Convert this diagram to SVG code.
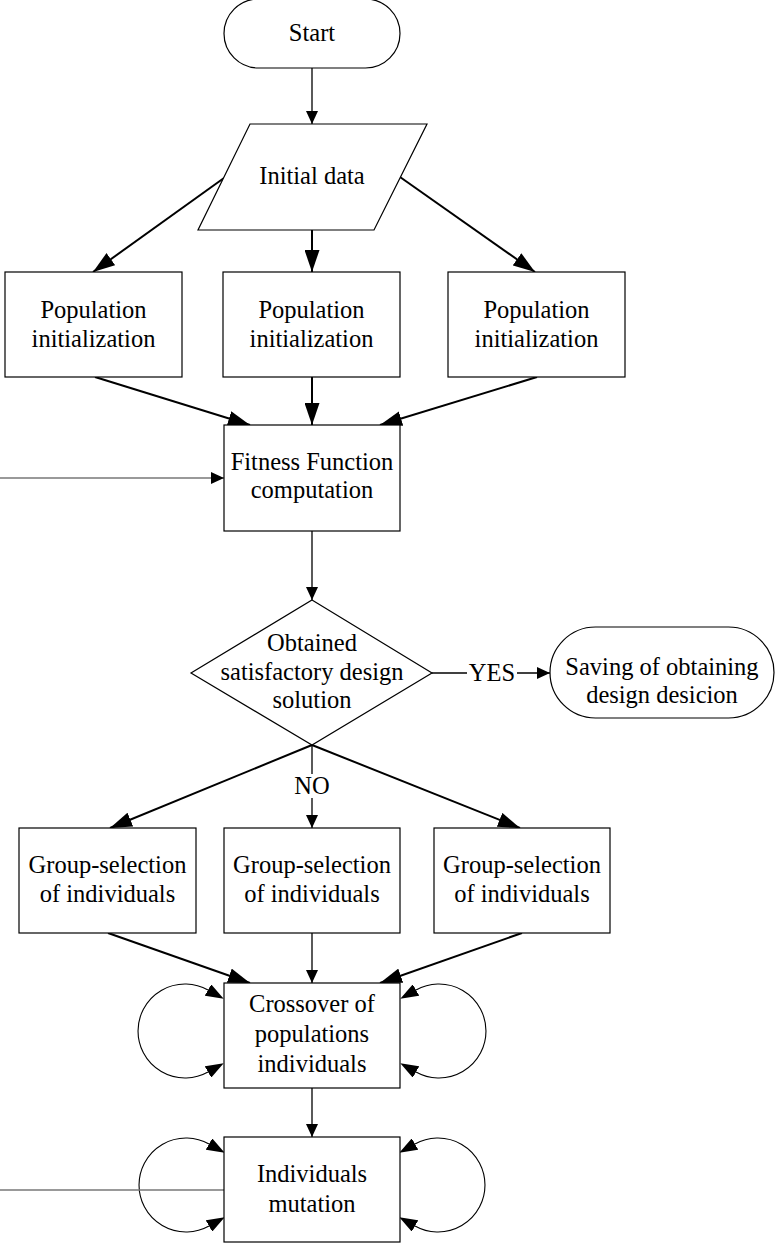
<svg xmlns="http://www.w3.org/2000/svg" width="776" height="1243" viewBox="0 0 776 1243">
<style>
.s{fill:#fff;stroke:#000;stroke-width:1.2}
.t{font-family:"Liberation Serif","Times New Roman",serif;font-size:24.5px;fill:#000;text-anchor:middle}
.thick{stroke:#000;stroke-width:2;fill:none}
.thin{stroke:#000;stroke-width:1.3;fill:none}
.loop{stroke:#000;stroke-width:1.1;fill:none}
.gray{stroke:#777;stroke-width:1.4;fill:none}
</style>
<defs>
<marker id="big" markerUnits="userSpaceOnUse" markerWidth="22" markerHeight="15" refX="22" refY="7.5" orient="auto"><path d="M0,0 L22,7.5 L0,15 z" fill="#000"/></marker>
<marker id="sm" markerUnits="userSpaceOnUse" markerWidth="13" markerHeight="12" refX="13" refY="6" orient="auto"><path d="M0,0 L13,6 L0,12 z" fill="#000"/></marker>
<marker id="lp" markerUnits="userSpaceOnUse" markerWidth="18" markerHeight="13" refX="0" refY="6.5" orient="auto-start-reverse"><path d="M0,0 L18,6.5 L0,13 z" fill="#000"/></marker>
</defs>
<g id="connectors">
<line class="thin" x1="312" y1="68" x2="312" y2="124" marker-end="url(#sm)"/>
<line class="thick" x1="224" y1="178" x2="93" y2="272" marker-end="url(#big)"/>
<line class="thick" x1="312" y1="230" x2="312" y2="272" marker-end="url(#big)"/>
<line class="thick" x1="400" y1="177" x2="535" y2="272" marker-end="url(#big)"/>
<line class="thick" x1="95" y1="377" x2="250" y2="425" marker-end="url(#big)"/>
<line class="thick" x1="312" y1="377" x2="312" y2="425" marker-end="url(#big)"/>
<line class="thick" x1="537" y1="377" x2="380" y2="425" marker-end="url(#big)"/>
<line class="gray" x1="0" y1="478" x2="224" y2="478" marker-end="url(#sm)"/>
<line class="thin" x1="312" y1="531" x2="312" y2="600" marker-end="url(#sm)"/>
<line class="thin" x1="432" y1="673" x2="467" y2="673"/>
<line class="thin" x1="517" y1="673" x2="550" y2="673" marker-end="url(#sm)"/>
<line class="thick" x1="312" y1="745" x2="110" y2="828" marker-end="url(#big)"/>
<line class="thick" x1="312" y1="745" x2="520" y2="828" marker-end="url(#big)"/>
<line class="thin" x1="312" y1="745" x2="312" y2="774"/>
<line class="thin" x1="312" y1="798" x2="312" y2="828" marker-end="url(#sm)"/>
<line class="thick" x1="108" y1="933" x2="250" y2="983" marker-end="url(#big)"/>
<line class="thin" x1="312" y1="933" x2="312" y2="983" marker-end="url(#sm)"/>
<line class="thick" x1="522" y1="933" x2="380" y2="983" marker-end="url(#big)"/>
<line class="thin" x1="312" y1="1088" x2="312" y2="1137" marker-end="url(#sm)"/>
<path class="loop" d="M208,990 A47,47 0 1 0 208,1072" marker-start="url(#lp)" marker-end="url(#lp)"/>
<path class="loop" d="M416,990 A47,47 0 1 1 416,1072" marker-start="url(#lp)" marker-end="url(#lp)"/>
<path class="loop" d="M209,1144 A47,47 0 1 0 209,1226" marker-start="url(#lp)" marker-end="url(#lp)"/>
<path class="loop" d="M415,1144 A47,47 0 1 1 415,1226" marker-start="url(#lp)" marker-end="url(#lp)"/>
<line class="gray" x1="0" y1="1190" x2="224" y2="1190"/>
</g>
<g id="start"><rect class="s" x="224" y="-1" width="176" height="69" rx="34.5"/><text class="t" x="312" y="41">Start</text></g>
<g id="initial-data"><polygon class="s" points="250,124 427,124 374,230 198,230"/><text class="t" x="312" y="184">Initial data</text></g>
<g id="pop1"><rect class="s" x="5" y="272" width="177" height="105"/><text class="t" x="93.5" y="318">Population</text><text class="t" x="93.5" y="347">initialization</text></g>
<g id="pop2"><rect class="s" x="223" y="272" width="177" height="105"/><text class="t" x="311.5" y="318">Population</text><text class="t" x="311.5" y="347">initialization</text></g>
<g id="pop3"><rect class="s" x="448" y="272" width="177" height="105"/><text class="t" x="536.5" y="318">Population</text><text class="t" x="536.5" y="347">initialization</text></g>
<g id="fitness"><rect class="s" x="224" y="425" width="176" height="106"/><text class="t" x="312" y="470">Fitness Function</text><text class="t" x="312" y="498">computation</text></g>
<g id="decision"><polygon class="s" points="312,600 432,673 312,745 191,673"/><text class="t" x="312" y="651">Obtained</text><text class="t" x="312" y="680">satisfactory design</text><text class="t" x="312" y="708">solution</text></g>
<g id="yes-label"><text class="t" x="492" y="681">YES</text></g>
<g id="no-label"><text class="t" x="312" y="794">NO</text></g>
<g id="saving"><rect class="s" x="550" y="627" width="224" height="91" rx="45.5"/><text class="t" x="662" y="675">Saving of obtaining</text><text class="t" x="662" y="703">design desicion</text></g>
<g id="sel1"><rect class="s" x="19" y="828" width="177" height="105"/><text class="t" x="107.5" y="873">Group-selection</text><text class="t" x="107.5" y="902">of individuals</text></g>
<g id="sel2"><rect class="s" x="224" y="828" width="176" height="105"/><text class="t" x="312" y="873">Group-selection</text><text class="t" x="312" y="902">of individuals</text></g>
<g id="sel3"><rect class="s" x="434" y="828" width="176" height="105"/><text class="t" x="522" y="873">Group-selection</text><text class="t" x="522" y="902">of individuals</text></g>
<g id="crossover"><rect class="s" x="224" y="983" width="176" height="105"/><text class="t" x="312" y="1012">Crossover of</text><text class="t" x="312" y="1042">populations</text><text class="t" x="312" y="1072">individuals</text></g>
<g id="mutation"><rect class="s" x="224" y="1137" width="176" height="105"/><text class="t" x="312" y="1182">Individuals</text><text class="t" x="312" y="1212">mutation</text></g>
</svg>
